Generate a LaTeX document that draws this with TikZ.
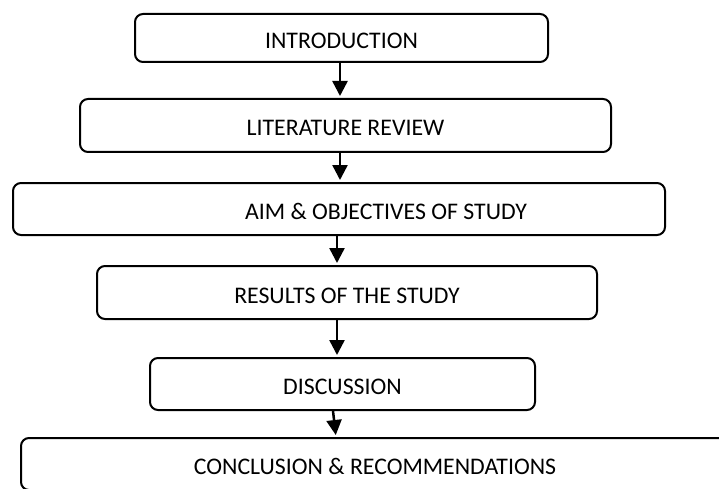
\documentclass[tikz,border=0pt]{standalone}
\usepackage{fontspec}
\setmainfont{Carlito}
\usetikzlibrary{arrows.meta}
\tikzset{
  stagebox/.style={draw, line width=2pt, rounded corners=8pt, inner sep=0pt,
    text height=21pt, text depth=0pt, font=\fontsize{23.8}{28}\selectfont},
  flow/.style={line width=2.5pt, shorten >=2pt, -{Triangle[width=15pt,length=15pt]}}
}
\begin{document}
\begin{tikzpicture}[x=1pt,y=-1pt]
  \useasboundingbox (0,0) rectangle (719,489);
  \node[stagebox, minimum width=413, minimum height=48] (intro) at (341.5,38) {INTRODUCTION};
  \node[stagebox, minimum width=531, minimum height=53] (lit) at (345.5,125.5) {LITERATURE REVIEW};
  \node[stagebox, minimum width=652, minimum height=52] (aim) at (339,209)
    {\hspace*{94pt}AIM \& OBJECTIVES OF STUDY};
  \node[stagebox, minimum width=500, minimum height=53] (res) at (347,292.5) {RESULTS OF THE STUDY};
  \node[stagebox, minimum width=385, minimum height=52] (disc) at (342.5,384) {DISCUSSION};
  \node[stagebox, minimum width=708, minimum height=52] (concl) at (375,464) {CONCLUSION \& RECOMMENDATIONS};
  \begin{scope}[flow]
    \draw (intro.south -| 340,0) to (lit.north -| 340,0);
    \draw (lit.south -| 340,0) to (aim.north -| 340,0);
    \draw (aim.south -| 337,0) to (res.north -| 337,0);
    \draw (res.south -| 337,0) to (disc.north -| 337,0);
    \draw (disc.south -| 333,0) to (concl.north -| 336,0);
  \end{scope}
\end{tikzpicture}
\end{document}
